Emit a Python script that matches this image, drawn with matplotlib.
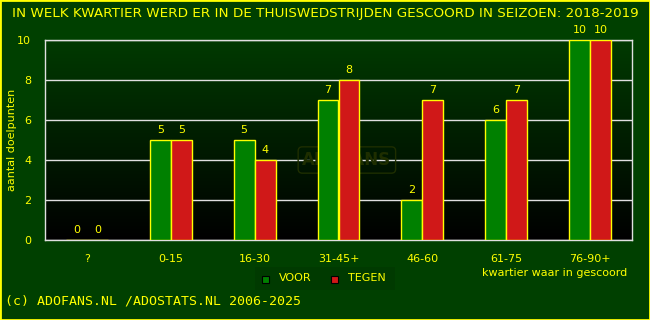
import matplotlib
matplotlib.use("Agg")
import matplotlib.pyplot as plt
import numpy as np
from matplotlib.patches import Rectangle

categories = ["?", "0-15", "16-30", "31-45+", "46-60", "61-75", "76-90+"]
voor = [0, 5, 5, 7, 2, 6, 10]
tegen = [0, 5, 4, 8, 7, 7, 10]
yticks = [0, 2, 4, 6, 8, 10]

BG = "#004000"
YEL = "#ffff00"
GREEN = "#008000"
RED = "#d01818"

fig = plt.figure(figsize=(6.5, 3.2), dpi=100, facecolor=BG)
ax = fig.add_axes([45 / 650, 80 / 320, 587 / 650, 200 / 320])

# gradient background, green at top to black at bottom
grad = np.linspace(0, 1, 256).reshape(-1, 1)
cmap = matplotlib.colors.LinearSegmentedColormap.from_list("bg", ["#003a00", "#000000"])
ax.imshow(grad, aspect="auto", cmap=cmap, extent=[-0.5, 6.5, 0, 10], origin="upper", zorder=0)

x = np.arange(len(categories))
w = 0.25
ax.bar(x - w / 2, voor, w, color=GREEN, edgecolor=YEL, linewidth=1, zorder=3)
ax.bar(x + w / 2, tegen, w, color=RED, edgecolor=YEL, linewidth=1, zorder=3)
for i in range(len(categories)):
    ax.text(x[i] - w / 2, voor[i] + 0.25, str(voor[i]), color=YEL, ha="center", va="bottom", fontsize=8, zorder=4)
    ax.text(x[i] + w / 2, tegen[i] + 0.25, str(tegen[i]), color=YEL, ha="center", va="bottom", fontsize=8, zorder=4)

ax.set_xlim(-0.5, 6.5)
ax.set_ylim(0, 10)
ax.set_yticks(yticks)
ax.set_xticks(x)
ax.set_xticklabels(categories)
ax.tick_params(colors=YEL, labelsize=8, length=0, pad=10)
ax.grid(axis="y", color="#e0e0e0", linewidth=1, zorder=1)
for s in ax.spines.values():
    s.set_color("#e0e0e0")
    s.set_linewidth(1)

fig.text(12 / 650, 1 - 140 / 320, "aantal doelpunten", color=YEL, fontsize=8, rotation=90,
         ha="center", va="center")

# faint watermark
ax.text(3.1, 4.0, "ADOFANS", color="#1e2e00", fontsize=12, fontweight="bold",
        ha="center", va="center", zorder=2,
        bbox=dict(boxstyle="round,pad=0.25", fc="none", ec="#1e2e00"))

fig.text(0.5, 1 - 13 / 320, "IN WELK KWARTIER WERD ER IN DE THUISWEDSTRIJDEN GESCOORD IN SEIZOEN: 2018-2019",
         color=YEL, fontsize=9.7, ha="center", va="center")
fig.text(627 / 650, 1 - 273 / 320, "kwartier waar in gescoord", color=YEL, fontsize=8, ha="right", va="center")
fig.text(5 / 650, 1 - 301 / 320, "(c) ADOFANS.NL /ADOSTATS.NL 2006-2025", color=YEL, fontsize=9.5,
         family="DejaVu Sans Mono", ha="left", va="center")

# legend
fig.patches.append(Rectangle((255 / 650, 1 - 290 / 320), 140 / 650, 23 / 320, transform=fig.transFigure,
                             facecolor="#003a00", edgecolor="none"))
for xx, col, lab in [(262, GREEN, "VOOR"), (331, RED, "TEGEN")]:
    fig.patches.append(Rectangle((xx / 650, 1 - 283 / 320), 7 / 650, 7 / 320, transform=fig.transFigure,
                                 facecolor=col, edgecolor="black", linewidth=0.8))
    fig.text((xx + 17) / 650, 1 - 278 / 320, lab, color=YEL, fontsize=8, ha="left", va="center")

# border
fig.patches.append(Rectangle((0, 0), 1, 1, transform=fig.transFigure, facecolor="none",
                             edgecolor=YEL, linewidth=2))

fig.savefig("out.png", dpi=100, facecolor=BG)
